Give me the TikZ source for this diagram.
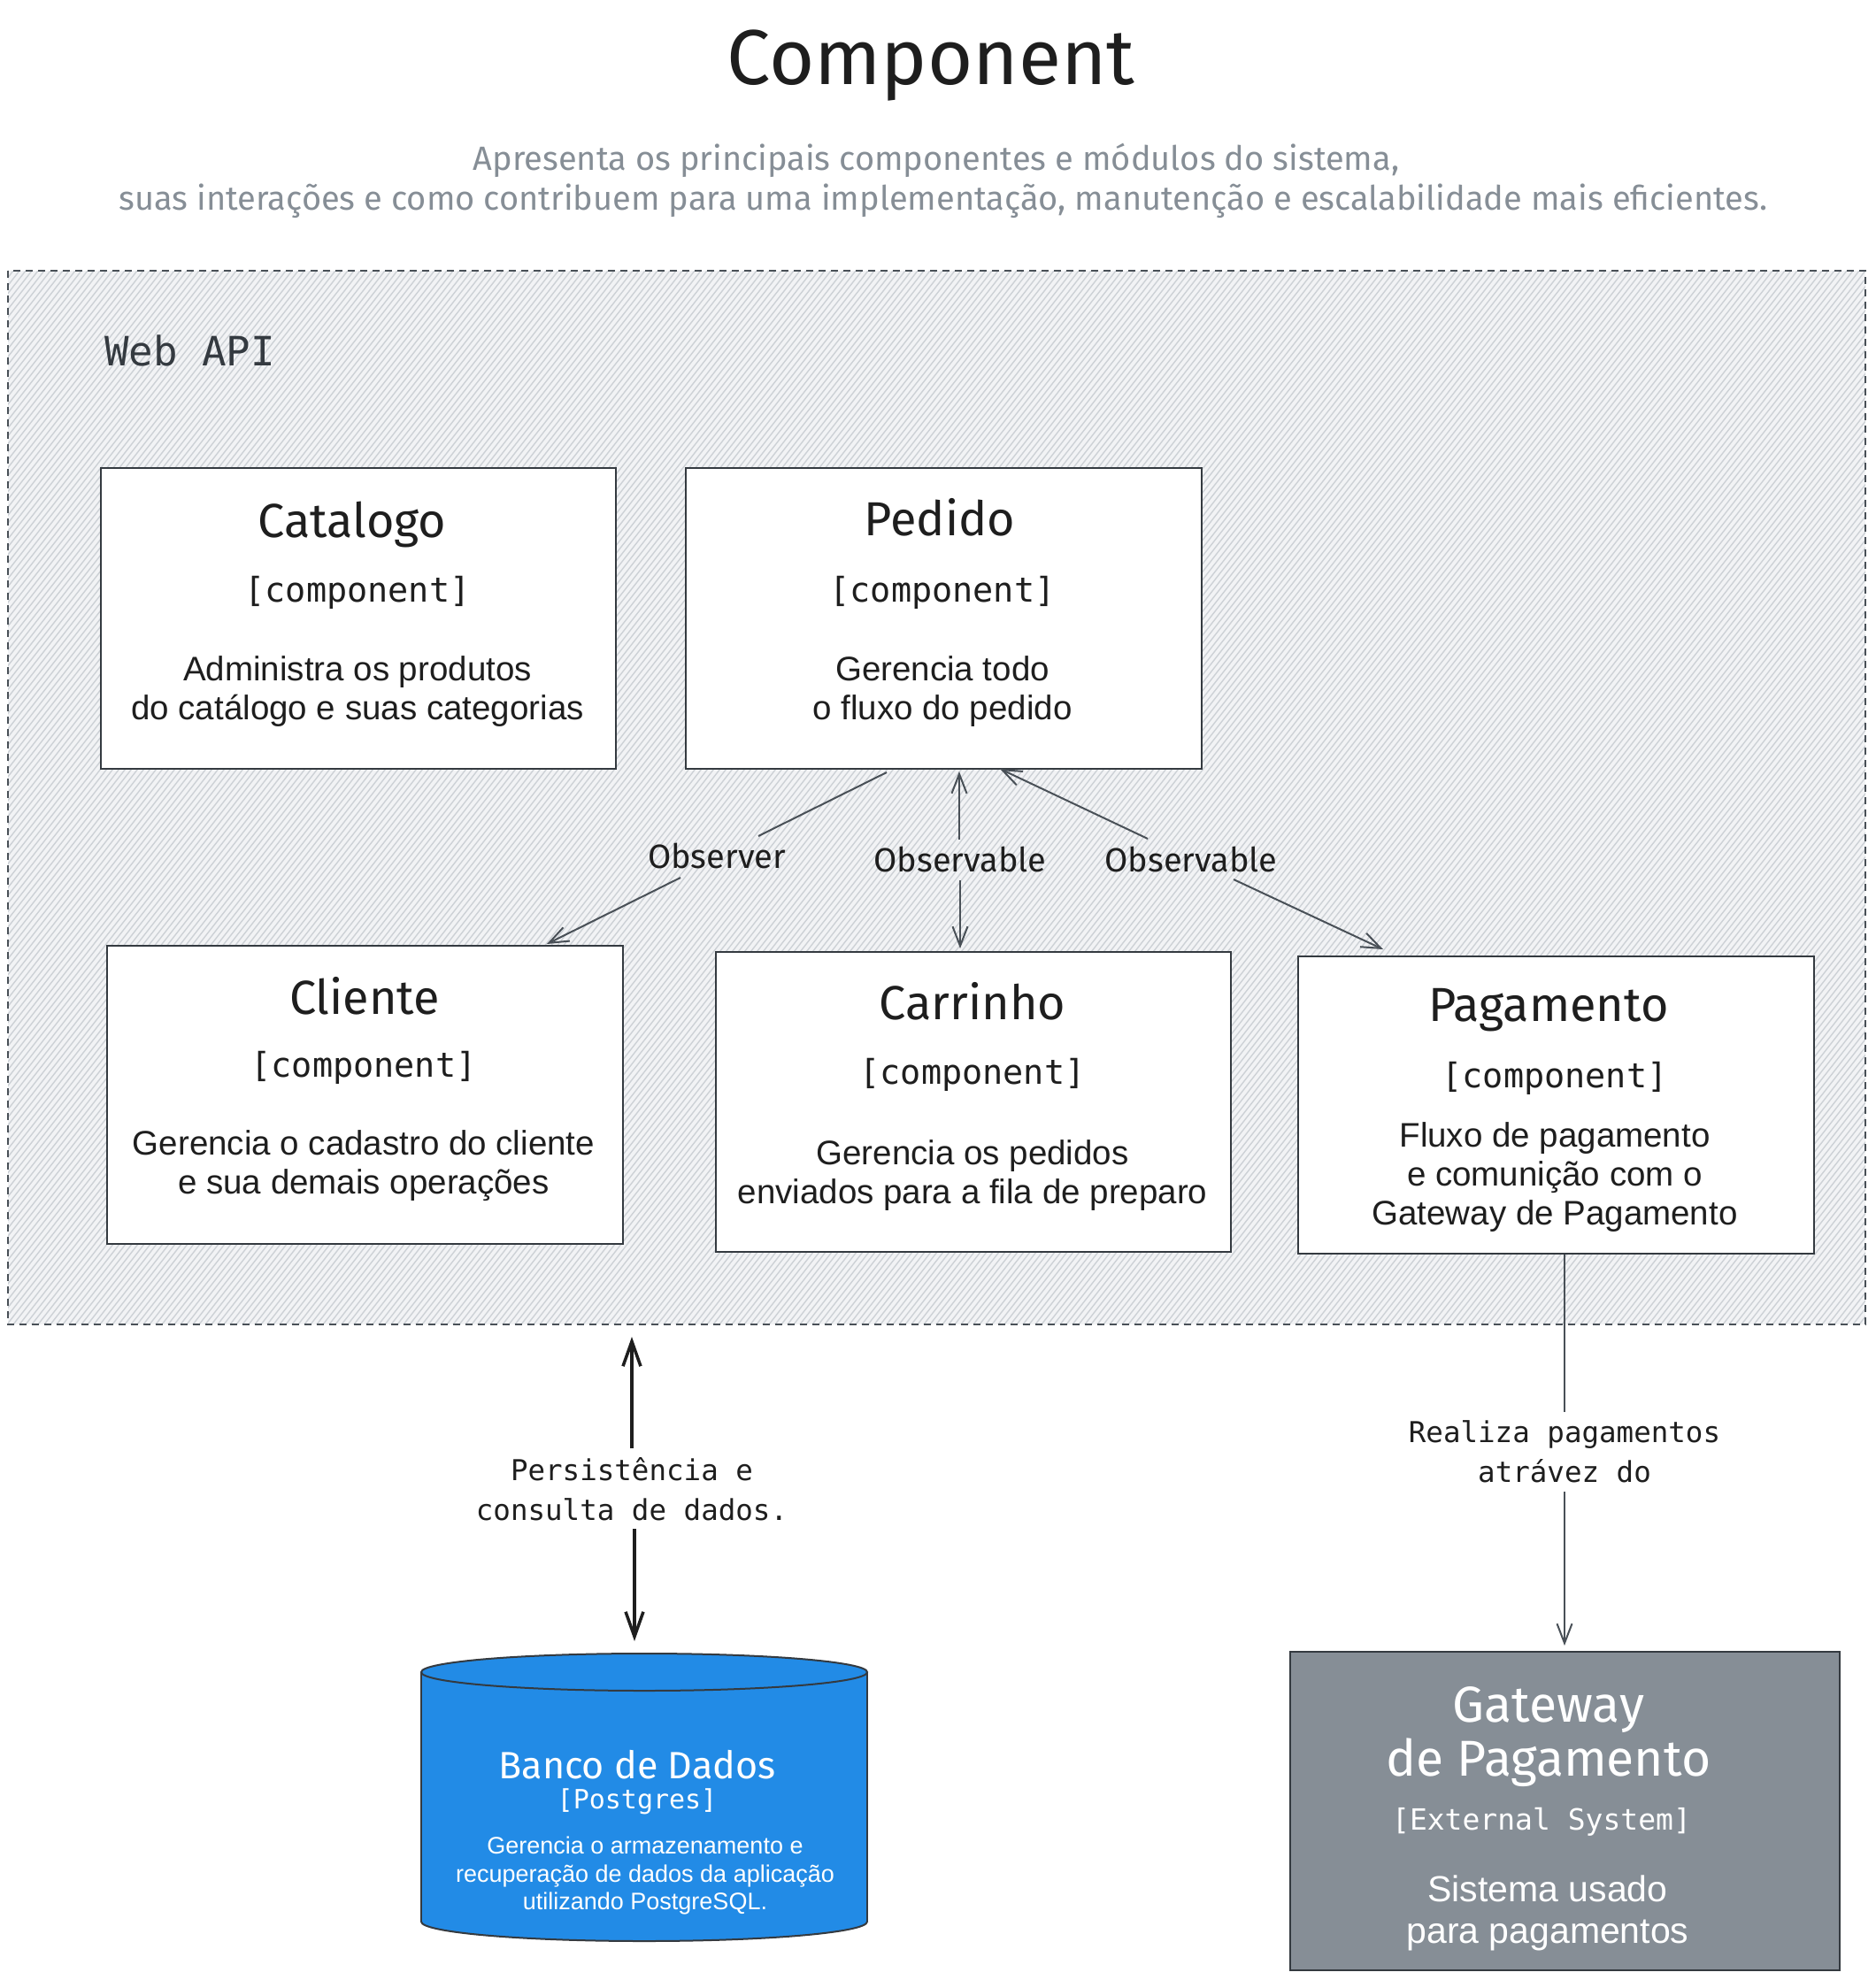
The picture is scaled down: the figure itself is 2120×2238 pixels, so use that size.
\documentclass[tikz,border=0pt]{standalone}
\usepackage{fontspec}
\setmainfont{Liberation Sans}
\newfontfamily\handfont{Fira Sans}
\newfontfamily\codefont{DejaVu Sans Mono}
\usetikzlibrary{arrows.meta}
\definecolor{ink}{HTML}{1E1E1E}
\definecolor{conncol}{HTML}{495057}
\definecolor{boxline}{HTML}{343A40}
\definecolor{subgray}{HTML}{868E96}
\definecolor{dbblue}{HTML}{228BE6}
\definecolor{gwgray}{HTML}{868E96}
\definecolor{hatchcol}{HTML}{CDD1D6}
\definecolor{hatchbg}{HTML}{F2F3F5}
\begin{document}
\begin{tikzpicture}[x=1pt,y=-1pt,
  compbox/.style={draw=boxline, line width=2.2pt, fill=white, anchor=north west, inner sep=0pt},
  ttl/.style={font=\handfont\fontsize{54}{60}\selectfont, text=ink, inner sep=0pt},
  tag/.style={font=\codefont\fontsize{38.5}{44}\selectfont, text=ink, inner sep=0pt},
  body/.style={font=\fontsize{38.5}{44}\selectfont, text=ink, align=center, inner sep=0pt},
  clabel/.style={font=\handfont\fontsize{38}{44}\selectfont, text=ink, inner sep=0pt},
  mlabel/.style={font=\codefont\fontsize{32.5}{45}\selectfont, text=ink, align=center, inner sep=0pt},
  conn/.style={draw=conncol, line width=2pt},
  tip/.style={-{Straight Barb[length=22pt,width=17pt]}},
  boldconn/.style={draw=ink, line width=3.5pt},
  boldtip/.style={-{Straight Barb[length=28pt,width=20pt]}}
]
\useasboundingbox (0,0) rectangle (2120,2238);
\fill[white] (0,0) rectangle (2120,2238);

% Title and subtitle
\node[font=\handfont\fontsize{88}{100}\selectfont, text=ink, anchor=base, inner sep=0pt] (title) at (1052,95) {Component};
\node[font=\handfont\fontsize{38}{45}\selectfont, text=subgray, anchor=base, inner sep=0pt] (sub1) at (1058,192) {Apresenta os principais componentes e módulos do sistema,};
\node[font=\handfont\fontsize{38}{45}\selectfont, text=subgray, anchor=base, inner sep=0pt] (sub2) at (1066,237) {suas interações e como contribuem para uma implementação, manutenção e escalabilidade mais eficientes.};

% Web API boundary with hachure
\fill[hatchbg] (9,306) rectangle (2108,1497);
\begin{scope}
  \clip (9,306) rectangle (2108,1497);
  \foreach \t in {-930,-923,...,2108} {
    \draw[hatchcol, line width=1.4pt] (\t,1497) -- ++(931,-1191);
  }
\end{scope}
\draw[conncol, line width=2pt, dash pattern=on 8pt off 6pt] (9,306) rectangle (2108,1497);
\node[font=\codefont\fontsize{45.7}{50}\selectfont, text=boxline, anchor=base west, inner sep=0pt] (webapi) at (118,413) {Web API};

% Components
\node[compbox, minimum width=582pt, minimum height=340pt] (catalogo) at (113,528) {};
\node[ttl] (catT) at (398,593) {Catalogo};
\node[tag] (catC) at (404,670) {[component]};
\node[body] (catB) at (404,782) {Administra os produtos\\do catálogo e suas categorias};

\node[compbox, minimum width=583pt, minimum height=340pt] (pedido) at (774,528) {};
\node[ttl] (pedT) at (1062,585) {Pedido};
\node[tag] (pedC) at (1065,670) {[component]};
\node[body] (pedB) at (1065,782) {Gerencia todo\\o fluxo do pedido};

\node[compbox, minimum width=583pt, minimum height=337pt] (cliente) at (120,1068) {};
\node[ttl] (cliT) at (412,1126) {Cliente};
\node[tag] (cliC) at (411,1207) {[component]};
\node[body] (cliB) at (411,1318) {Gerencia o cadastro do cliente\\e sua demais operações};

\node[compbox, minimum width=582pt, minimum height=339pt] (carrinho) at (808,1075) {};
\node[ttl] (carT) at (1099,1132) {Carrinho};
\node[tag] (carC) at (1099,1215) {[component]};
\node[body] (carB) at (1099,1329) {Gerencia os pedidos\\enviados para a fila de preparo};

\node[compbox, minimum width=583pt, minimum height=336pt] (pagamento) at (1466,1080) {};
\node[ttl] (pagT) at (1750,1142) {Pagamento};
\node[tag] (pagC) at (1757,1219) {[component]};
\node[body] (pagB) at (1757,1331) {Fluxo de pagamento\\e comunição com o\\Gateway de Pagamento};

% Connector labels
\node[clabel] (lobs) at (810,967) {Observer};
\node[clabel] (lmid) at (1085,971) {Observable};
\node[clabel] (lright) at (1346,971) {Observable};

% Connector coordinates
\coordinate (obsTop) at (1002,873);
\coordinate (obsG1) at (857,945);
\coordinate (obsG2) at (769,992);
\coordinate (obsEnd) at (618,1067);
\coordinate (midTop) at (1084,872);
\coordinate (midG1) at (1084,949);
\coordinate (midG2) at (1085,995);
\coordinate (midEnd) at (1085,1072);
\coordinate (rTop) at (1130,869);
\coordinate (rG1) at (1297,948);
\coordinate (rG2) at (1394,994);
\coordinate (rEnd) at (1563,1073);

\draw[conn] (obsTop) -- (obsG1);
\draw[conn,tip] (obsG2) -- (obsEnd);
\draw[conn,tip] (midG1) -- (midTop);
\draw[conn,tip] (midG2) -- (midEnd);
\draw[conn,tip] (rG1) -- (rTop);
\draw[conn,tip] (rG2) -- (rEnd);

% Database cylinder
\fill[dbblue] (476,1890) rectangle (980,2172);
\fill[dbblue] (728,2172) ellipse [x radius=252pt, y radius=22pt];
\fill[dbblue] (728,1890) ellipse [x radius=252pt, y radius=21pt];
\draw[boxline, line width=2pt] (476,1890) -- (476,2172);
\draw[boxline, line width=2pt] (980,1890) -- (980,2172);
\begin{scope}
  \clip (460,2172) rectangle (1000,2210);
  \draw[boxline, line width=2pt] (728,2172) ellipse [x radius=252pt, y radius=22pt];
\end{scope}
\draw[boxline, line width=2pt] (728,1890) ellipse [x radius=252pt, y radius=21pt];
\coordinate (db) at (728,1869);
\node[font=\handfont\fontsize{43}{48}\selectfont, text=white, inner sep=0pt] (dbT) at (720,1995) {Banco de Dados};
\node[font=\codefont\fontsize{30}{36}\selectfont, text=white, inner sep=0pt] (dbC) at (720,2036) {[Postgres]};
\node[font=\fontsize{27}{31.5}\selectfont, text=white, align=center, inner sep=0pt] (dbB) at (729,2120) {Gerencia o armazenamento e\\recuperação de dados da aplicação\\utilizando PostgreSQL.};

% Gateway external system
\node[draw=boxline, line width=2.2pt, fill=gwgray, anchor=north west, minimum width=621pt, minimum height=360pt, inner sep=0pt] (gateway) at (1457,1866) {};
\node[font=\handfont\fontsize{57}{61}\selectfont, text=white, align=center, inner sep=0pt] (gwT) at (1750,1963) {Gateway\\de Pagamento};
\node[font=\codefont\fontsize{33}{40}\selectfont, text=white, inner sep=0pt] (gwC) at (1742,2059) {[External System]};
\node[font=\fontsize{41}{47}\selectfont, text=white, align=center, inner sep=0pt] (gwB) at (1749,2162) {Sistema usado\\para pagamentos};

% Persistence connector
\node[mlabel] (lpers) at (714,1683) {Persistência e\\consulta de dados.};
\coordinate (pTop) at (714,1511);
\coordinate (pG1) at (714,1637);
\coordinate (pG2) at (717,1728);
\coordinate (pEnd) at (717,1855);
\draw[boldconn,boldtip] (pG1) -- (pTop);
\draw[boldconn,boldtip] (pG2) -- (pEnd);

% Payment connector
\node[mlabel] (lpay) at (1768,1641) {Realiza pagamentos\\atrávez do};
\coordinate (gStart) at (1768,1418);
\coordinate (gG1) at (1768,1596);
\coordinate (gG2) at (1768,1686);
\coordinate (gEnd) at (1768,1860);
\draw[conn] (gStart) -- (gG1);
\draw[conn,tip] (gG2) -- (gEnd);
\end{tikzpicture}
\end{document}
